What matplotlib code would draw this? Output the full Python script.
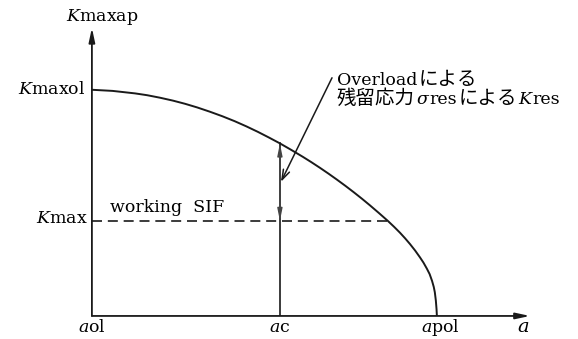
import matplotlib
matplotlib.use('Agg')
import matplotlib.pyplot as plt
from matplotlib.offsetbox import TextArea, HPacker, VPacker, AnnotationBbox

plt.rcParams['font.family'] = ['DejaVu Serif', 'Noto Sans CJK JP']
plt.rcParams['mathtext.fontset'] = 'dejavuserif'

# a/apol と K/Kmaxol で正規化した曲線 (aol = 0)
a_curve = [0.0, 0.06, 0.125, 0.16, 0.197, 0.235, 0.27, 0.305, 0.342, 0.378,
           0.414, 0.448, 0.481, 0.513, 0.545, 0.578, 0.612, 0.636, 0.661, 0.686,
           0.71, 0.735, 0.759, 0.783, 0.806, 0.832, 0.858, 0.876, 0.893, 0.908,
           0.922, 0.937, 0.951, 0.961, 0.971, 0.979, 0.986, 0.991, 0.994, 0.997,
           0.999, 1.0]
k_curve = [1.0, 0.995, 0.984, 0.976, 0.965, 0.952, 0.938, 0.922, 0.903, 0.883,
           0.861, 0.838, 0.814, 0.789, 0.763, 0.734, 0.703, 0.68, 0.655, 0.629,
           0.603, 0.575, 0.547, 0.518, 0.489, 0.455, 0.42, 0.394, 0.368, 0.343,
           0.318, 0.289, 0.259, 0.236, 0.209, 0.185, 0.155, 0.128, 0.105, 0.068,
           0.03, 0.0]

a_ol = 0.0
a_c = 0.545
a_pol = 1.0
k_maxol = 1.0
k_max = 0.42
a_cross = 0.858      # Kmax の水平線が曲線と交わる位置
k_at_ac = 0.763      # a = ac での曲線の値

fig = plt.figure(figsize=(5.78, 3.39), dpi=100)
ax = fig.add_axes([0.159, 0.068, 0.758, 0.85])
ax.set_xlim(0, 1.27)
ax.set_ylim(0, 1.274)
ax.axis('off')

ink = '#1a1a1a'

# 座標軸 (矢印つき)
head = dict(arrowstyle='-|>,head_length=0.7,head_width=0.15', lw=1.3, color=ink,
            shrinkA=0, shrinkB=0, mutation_scale=12)
ax.annotate('', xy=(1, 0), xytext=(0, 0), xycoords='axes fraction', arrowprops=head)
ax.annotate('', xy=(0, 1), xytext=(0, 0), xycoords='axes fraction', arrowprops=head)

ax.plot(a_curve, k_curve, color=ink, lw=1.4, solid_joinstyle='round')
ax.plot([a_ol, a_cross], [k_max, k_max], color=ink, lw=1.2, dashes=(6, 3.5))
ax.plot([a_c, a_c], [0, k_at_ac], color=ink, lw=1.2)

# ac における Kmax と曲線の差
ax.annotate('', xy=(a_c, k_at_ac), xytext=(a_c, k_max),
            arrowprops=dict(arrowstyle='<|-|>,head_length=0.6,head_width=0.12',
                            lw=1.0, color='#444444', shrinkA=0, shrinkB=0,
                            mutation_scale=12))

# 注記の引出線
ax.annotate('', xy=(0.548, 0.593), xytext=(0.696, 1.053),
            arrowprops=dict(arrowstyle='->,head_length=0.6,head_width=0.2',
                            lw=1.1, color=ink, shrinkA=0, shrinkB=0,
                            mutation_scale=12))

fs = 12.5
ax.text(0.03, 1.323, r'$K$maxap', ha='center', va='center', fontsize=fs)
ax.text(-0.02, k_maxol, r'$K$maxol', ha='right', va='center', fontsize=fs)
ax.text(-0.012, k_max + 0.01, r'$K$max', ha='right', va='center', fontsize=fs)
ax.text(0.052, 0.46, 'working  SIF', ha='left', va='baseline', fontsize=fs)

yb = -0.072
ax.text(a_ol, yb, r'$a$ol', ha='center', va='baseline', fontsize=fs)
ax.text(a_c, yb, r'$a$c', ha='center', va='baseline', fontsize=fs)
ax.text(a_pol + 0.009, yb, r'$a$pol', ha='center', va='baseline', fontsize=fs)
ax.text(1.249, yb, r'$a$', ha='center', va='baseline', fontsize=fs + 1.5)


def part(s, **kw):
    props = dict(fontsize=fs, family=['DejaVu Serif', 'Noto Sans CJK JP'])
    props.update(kw)
    return TextArea(s, textprops=props)


jp = dict(fontsize=14)
line1 = HPacker(children=[part('Overload'), part('による', **jp)],
                align='baseline', pad=0, sep=1)
line2 = HPacker(children=[part('残留応力', **jp), part('σ', style='italic'),
                          part('res'), part('による', **jp),
                          part('K', style='italic'), part('res')],
                align='baseline', pad=0, sep=1)
note = VPacker(children=[line1, line2], align='left', pad=0, sep=0)
ax.add_artist(AnnotationBbox(note, (0.71, 1.0), xycoords='data',
                             box_alignment=(0, 0.5), frameon=False, pad=0))

fig.savefig('out.png', dpi=100, facecolor='white')
